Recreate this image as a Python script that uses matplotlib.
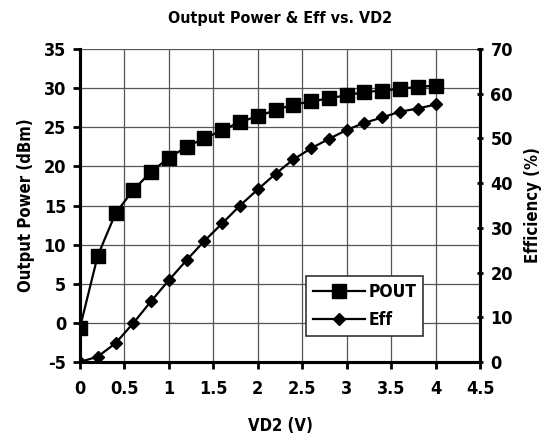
import numpy as np
import matplotlib
matplotlib.use("Agg")
import matplotlib.pyplot as plt

plt.rcParams['font.family'] = ['DejaVu Sans']
plt.rcParams['font.stretch'] = 'condensed'
plt.rcParams['font.weight'] = 'bold'
plt.rcParams['axes.unicode_minus'] = False

# data
vd2 = [0, 0.2, 0.4, 0.6, 0.8, 1.0, 1.2, 1.4, 1.6, 1.8, 2.0,
       2.2, 2.4, 2.6, 2.8, 3.0, 3.2, 3.4, 3.6, 3.8, 4.0]
pout = [-0.6, 8.6, 14.0, 17.0, 19.3, 21.1, 22.5, 23.6, 24.6, 25.7, 26.4,
        27.2, 27.9, 28.3, 28.7, 29.1, 29.5, 29.7, 29.9, 30.2, 30.3]
eff = [0.0, 1.2, 4.2, 8.7, 13.6, 18.3, 22.8, 27.1, 31.0, 35.0, 38.6,
       42.1, 45.3, 47.8, 49.9, 51.9, 53.5, 54.7, 56.0, 56.7, 57.6]

fig = plt.figure(figsize=(5.57, 4.42), dpi=100)
ax = fig.add_axes([0.1436, 0.181, 0.7182, 0.708])
ax2 = ax.twinx()

l1, = ax.plot(vd2, pout, color='black', lw=1.6, marker='s', ms=9.5, label='POUT')
l2, = ax2.plot(vd2, eff, color='black', lw=1.6, marker='D', ms=6.5, label='Eff')

ax.set_xlim(0, 4.5)
ax.set_ylim(-5, 35)
ax2.set_ylim(0, 70)
ax.set_xticks(np.arange(0, 4.51, 0.5))
ax.set_xticklabels(['0', '0.5', '1', '1.5', '2', '2.5', '3', '3.5', '4', '4.5'])
ax.set_yticks(np.arange(-5, 36, 5))
ax2.set_yticks(np.arange(0, 71, 10))

ax.grid(True, color='#555555', lw=0.9)
ax.set_axisbelow(True)

for a in (ax, ax2):
    a.spines['top'].set_visible(False)
    for s in ('left', 'right', 'bottom'):
        a.spines[s].set_linewidth(2.2)
ax.tick_params(axis='both', labelsize=13, width=2, length=5, direction='out', pad=5)
ax.tick_params(axis='x', pad=8)
ax2.tick_params(axis='y', labelsize=13, width=2, length=5, direction='inout', pad=5)

ax.set_xlabel('VD2 (V)', fontsize=12, fontweight='bold', labelpad=14)
ax.set_ylabel('Output Power (dBm)', fontsize=12, fontweight='bold', labelpad=6)
ax2.set_ylabel('Efficiency (%)', fontsize=12, fontweight='bold', labelpad=8)
ax.set_title('Output Power & Eff vs. VD2', fontsize=11.5, fontweight='bold', pad=19)

leg = ax.legend(handles=[l1, l2], loc='lower right', bbox_to_anchor=(0.858, 0.083),
                borderaxespad=0, fontsize=12.5, fancybox=False, framealpha=1,
                edgecolor='#333333', handlelength=3.0, borderpad=0.4,
                labelspacing=0.6, handletextpad=0.2)
leg.get_frame().set_linewidth(1.2)
leg.set_zorder(5)

fig.savefig('out.png', dpi=100)
